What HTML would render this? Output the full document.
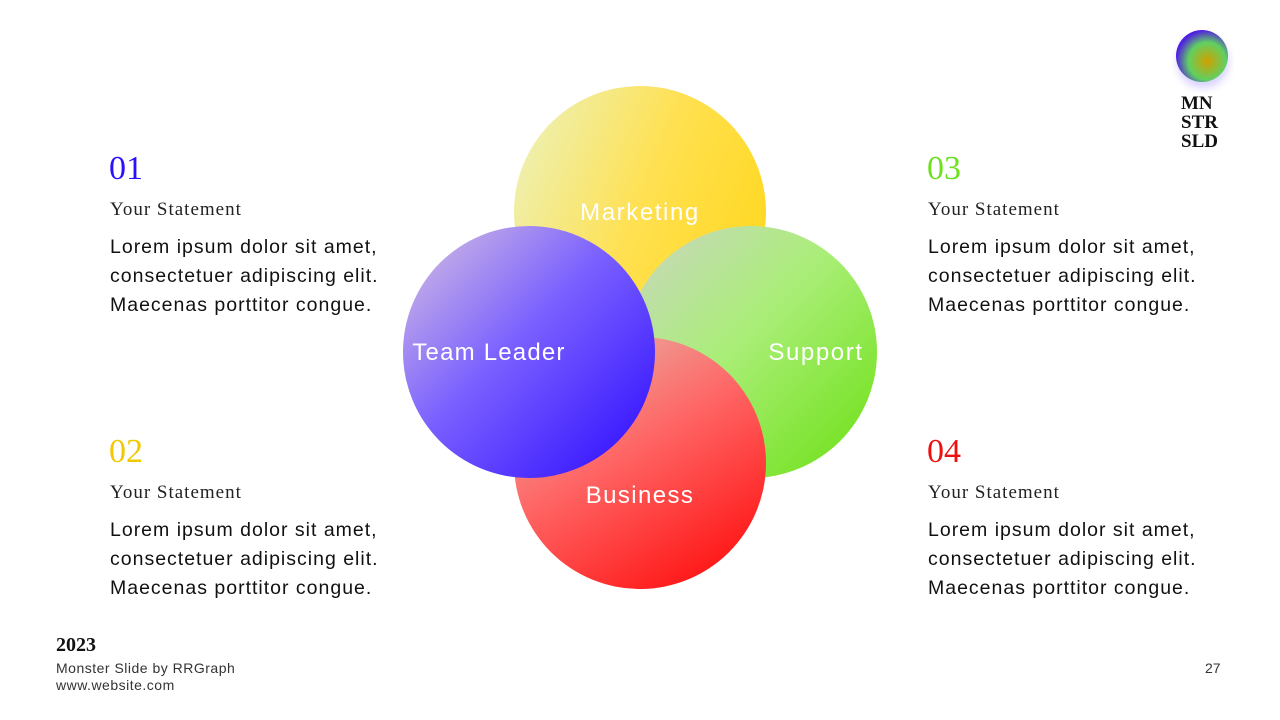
<!DOCTYPE html>
<html><head><meta charset="utf-8"><style>
body{margin:0;width:1280px;height:720px;background:#fff;position:relative;overflow:hidden;font-family:"Liberation Sans",sans-serif;}
.num{position:absolute;font-family:"Liberation Serif",serif;font-size:34px;line-height:1;}
.st{position:absolute;font-family:"Liberation Serif",serif;font-size:19px;color:#222;letter-spacing:1px;}
.body{position:absolute;font-size:19.5px;line-height:29px;color:#111;letter-spacing:1px;white-space:nowrap;}
.abs{position:absolute;}
</style></head><body>
<div class="num" style="left:109px;top:152px;color:#2a10ff">01</div>
<div class="st" style="left:110px;top:199px">Your Statement</div>
<div class="body" style="left:110px;top:233px">Lorem ipsum dolor sit amet,<br>consectetuer adipiscing elit.<br>Maecenas porttitor congue.</div>
<div class="num" style="left:109px;top:435px;color:#f2c800">02</div>
<div class="st" style="left:110px;top:482px">Your Statement</div>
<div class="body" style="left:110px;top:516px">Lorem ipsum dolor sit amet,<br>consectetuer adipiscing elit.<br>Maecenas porttitor congue.</div>
<div class="num" style="left:927px;top:152px;color:#6ee020">03</div>
<div class="st" style="left:928px;top:199px">Your Statement</div>
<div class="body" style="left:928px;top:233px">Lorem ipsum dolor sit amet,<br>consectetuer adipiscing elit.<br>Maecenas porttitor congue.</div>
<div class="num" style="left:927px;top:435px;color:#ee1010">04</div>
<div class="st" style="left:928px;top:482px">Your Statement</div>
<div class="body" style="left:928px;top:516px">Lorem ipsum dolor sit amet,<br>consectetuer adipiscing elit.<br>Maecenas porttitor congue.</div>

<svg class="abs" style="left:0;top:0" width="1280" height="720">
<defs>
<linearGradient id="gm" x1="0" y1="0.3" x2="1" y2="0.7"><stop offset="0" stop-color="#eef0b0"/><stop offset="0.5" stop-color="#ffe050"/><stop offset="1" stop-color="#ffd820"/></linearGradient>
<linearGradient id="gb" x1="0.2" y1="0" x2="0.8" y2="1"><stop offset="0" stop-color="#e8b0a4"/><stop offset="0.45" stop-color="#ff6464"/><stop offset="1" stop-color="#ff1010"/></linearGradient>
<linearGradient id="gs" x1="0" y1="0" x2="1" y2="1"><stop offset="0" stop-color="#ccd4c4"/><stop offset="0.45" stop-color="#aaee78"/><stop offset="1" stop-color="#6ae010"/></linearGradient>
<linearGradient id="gt" x1="0" y1="0" x2="1" y2="1"><stop offset="0" stop-color="#d8c4e0"/><stop offset="0.45" stop-color="#7a60ff"/><stop offset="1" stop-color="#2a08ff"/></linearGradient>
<radialGradient id="lg" cx="0.6" cy="0.6" r="0.6"><stop offset="0" stop-color="#d0a000"/><stop offset="0.6" stop-color="#60d060"/><stop offset="1" stop-color="#5020e0"/></radialGradient>
<filter id="bl"><feGaussianBlur stdDeviation="4"/></filter>
</defs>
<circle cx="640" cy="212" r="126" fill="url(#gm)"/>
<circle cx="751" cy="352" r="126" fill="url(#gs)"/>
<circle cx="640" cy="463" r="126" fill="url(#gb)"/>
<circle cx="529" cy="352" r="126" fill="url(#gt)"/>
<g font-family="Liberation Sans, sans-serif" font-size="24" fill="#fff" text-anchor="middle">
<text x="640" y="220" letter-spacing="1.6">Marketing</text>
<text x="489" y="360" letter-spacing="1.2">Team Leader</text>
<text x="816" y="360" letter-spacing="1.6">Support</text>
<text x="640" y="503" letter-spacing="1.4">Business</text>
</g>
<circle cx="1203" cy="62" r="26" fill="#9080ff" opacity="0.35" filter="url(#bl)"/>
<circle cx="1202" cy="56" r="26" fill="url(#lg)"/>
</svg>
<div class="abs" style="left:1181px;top:94px;font-family:'Liberation Serif',serif;font-weight:bold;font-size:19px;line-height:19px;color:#111">MN<br>STR<br>SLD</div>
<div class="abs" style="left:56px;top:634px;font-family:'Liberation Serif',serif;font-weight:bold;font-size:20px;color:#111">2023</div>
<div class="abs" style="left:56px;top:660px;font-size:14px;line-height:17px;color:#333;letter-spacing:0.5px">Monster Slide by RRGraph<br>www.website.com</div>
<div class="abs" style="left:1205px;top:660px;font-size:14px;color:#333">27</div>
</body></html>
